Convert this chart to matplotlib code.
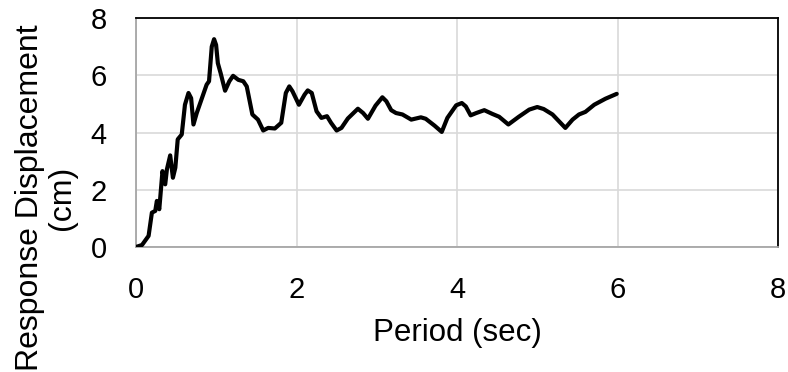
import matplotlib
matplotlib.use("Agg")
import matplotlib.pyplot as plt

# period (sec) and response displacement (cm)
period = [0.0, 0.075, 0.157, 0.198, 0.24, 0.26, 0.29, 0.33, 0.364, 0.385, 0.426,
          0.46, 0.49, 0.52, 0.57, 0.61, 0.654, 0.687, 0.716, 0.757, 0.88, 0.91,
          0.944, 0.973, 0.998, 1.02, 1.055, 1.11, 1.163, 1.21, 1.275, 1.337,
          1.38, 1.45, 1.52, 1.585, 1.647, 1.73, 1.81, 1.867, 1.91, 1.95, 2.03,
          2.10, 2.14, 2.19, 2.25, 2.31, 2.38, 2.43, 2.50, 2.56, 2.64, 2.765,
          2.83, 2.89, 2.985, 3.07, 3.12, 3.18, 3.24, 3.32, 3.43, 3.55, 3.61,
          3.72, 3.81, 3.88, 3.99, 4.06, 4.11, 4.17, 4.24, 4.34, 4.44, 4.525,
          4.64, 4.77, 4.90, 5.00, 5.08, 5.19, 5.35, 5.44, 5.52, 5.60, 5.71,
          5.85, 5.99]
disp = [0.0, 0.07, 0.39, 1.2, 1.26, 1.61, 1.32, 2.65, 2.19, 2.71, 3.2,
        2.42, 2.77, 3.76, 3.93, 4.97, 5.38, 5.2, 4.28, 4.68, 5.67, 5.79,
        7.0, 7.26, 7.06, 6.42, 6.07, 5.46, 5.79, 5.98, 5.84, 5.79,
        5.61, 4.63, 4.45, 4.07, 4.16, 4.14, 4.34, 5.38, 5.61, 5.44, 4.97,
        5.32, 5.47, 5.38, 4.74, 4.51, 4.57, 4.34, 4.07, 4.16, 4.49, 4.83,
        4.68, 4.48, 4.94, 5.23, 5.09, 4.78, 4.68, 4.63, 4.45, 4.53, 4.48,
        4.24, 4.02, 4.51, 4.95, 5.03, 4.91, 4.60, 4.68, 4.78, 4.65, 4.55,
        4.28, 4.55, 4.80, 4.89, 4.82, 4.63, 4.16, 4.45, 4.63, 4.72, 4.97,
        5.18, 5.35]

plt.rcParams['font.family'] = ['Liberation Sans', 'DejaVu Sans']

fig = plt.figure(figsize=(7.88, 3.72), dpi=100)
ax = fig.add_axes([136/788, 1-247/372, (778-136)/788, (247-18)/372])

ax.plot(period, disp, '-k', lw=3, solid_joinstyle='round', solid_capstyle='round', zorder=3)

ax.set_xlim(0, 8)
ax.set_ylim(0, 8)
ax.set_xticks([0, 2, 4, 6, 8])
ax.set_yticks([0, 2, 4, 6, 8])
ax.grid(True, color='#d9d9d9', lw=1.2)
ax.set_axisbelow(True)
ax.tick_params(length=0, labelsize=21)
ax.tick_params(axis='x', pad=21)
ax.tick_params(axis='y', pad=21)

for s in ['top', 'right']:
    ax.spines[s].set_color('black')
    ax.spines[s].set_linewidth(1.3)
for s in ['left', 'bottom']:
    ax.spines[s].set_color('#a6a6a6')
    ax.spines[s].set_linewidth(1.3)

ax.set_xlabel("Period (sec)", fontsize=22.5, labelpad=10)
fig.text(46/788, 1-198/372, "Response Displacement\n(cm)", rotation=90,
         ha='center', va='center', fontsize=23, linespacing=1.1,
         multialignment='center')

fig.savefig("out.png", dpi=100)
